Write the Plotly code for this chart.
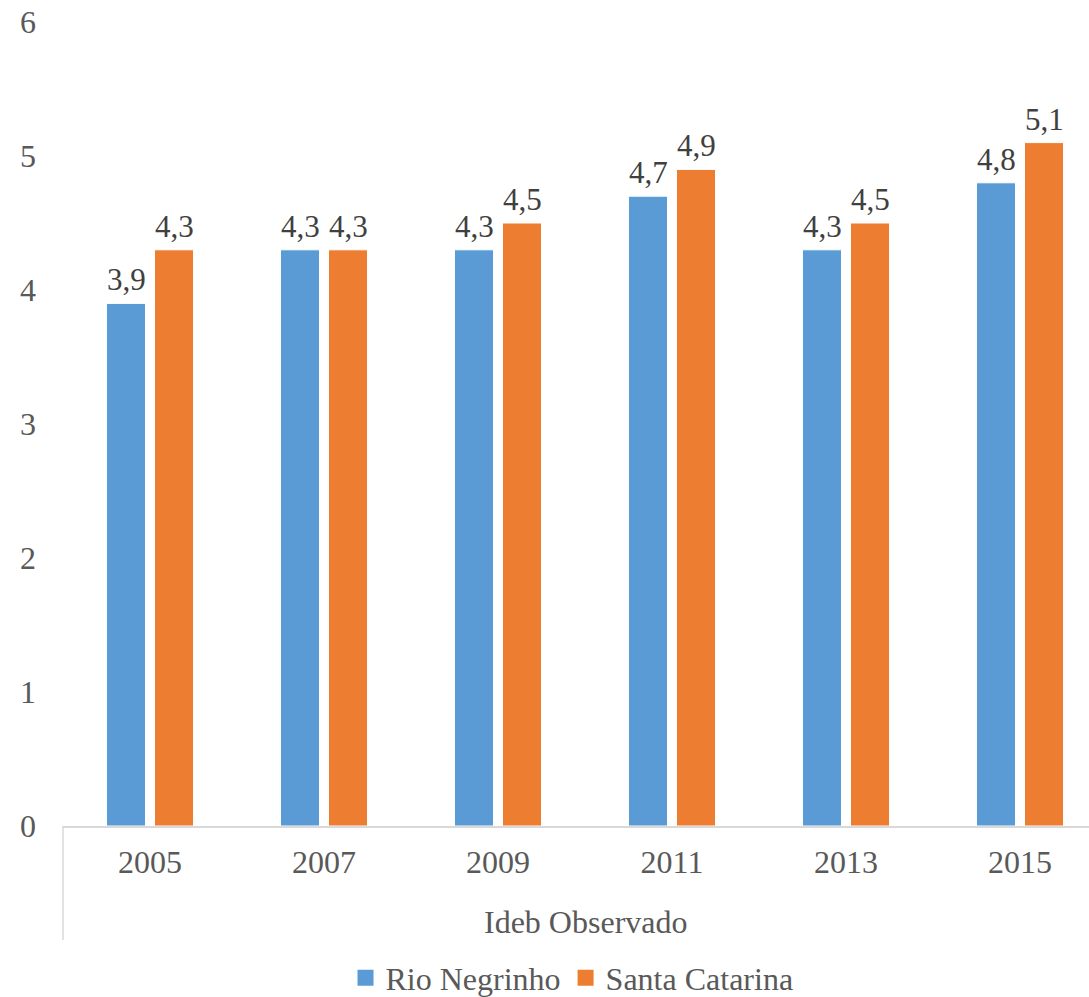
import plotly.graph_objects as go

years = ["2005", "2007", "2009", "2011", "2013", "2015"]
rio_negrinho = [3.9, 4.3, 4.3, 4.7, 4.3, 4.8]
santa_catarina = [4.3, 4.3, 4.5, 4.9, 4.5, 5.1]
series_names = ["Rio Negrinho", "Santa Catarina"]
colors = ["#5B9BD5", "#ED7D31"]
group_label = "Ideb Observado"

FONT = "Liberation Serif"
TXT = "#595959"
LBL = "#404040"

fig = go.Figure()
for name, vals, col in zip(series_names, [rio_negrinho, santa_catarina], colors):
    fig.add_trace(go.Bar(
        x=years, y=vals, name=name, showlegend=False,
        marker=dict(color=col, line=dict(color="white", width=1)),
    ))
# legend entries with square swatches
for name, col in zip(series_names, colors):
    fig.add_trace(go.Scatter(
        x=[None], y=[None], mode="markers", name=name,
        marker=dict(symbol="square", size=19, color=col),
    ))

# data labels above bars (category index positions, shifted to each bar)
for vals, shift in [(rio_negrinho, -24), (santa_catarina, 24)]:
    for i, v in enumerate(vals):
        fig.add_annotation(x=i, y=v, xref="x", yref="y", xshift=shift, yshift=4,
                           yanchor="bottom", showarrow=False,
                           text=f"{v:.1f}".replace(".", ","),
                           font=dict(family=FONT, size=31, color=LBL))

W, H = 1089, 997
left, right_px = 63, 1089
top_px, bot_px = 22, 826
cat_w = 174.0
n = len(years)
x_max = -0.5 + (right_px - left) / cat_w
ph = bot_px - top_px

fig.update_layout(
    width=W, height=H,
    margin=dict(l=left, r=W - right_px, t=top_px, b=H - bot_px, autoexpand=False),
    paper_bgcolor="white", plot_bgcolor="white",
    barmode="group", bargap=0.448, bargroupgap=0.1875,
    separators=", ",
    font=dict(family=FONT, size=32, color=TXT),
    showlegend=True,
    legend=dict(orientation="h", x=(572 - left) / (right_px - left), xanchor="center",
                y=-(978 - bot_px) / ph, yanchor="middle",
                font=dict(family=FONT, size=32, color=TXT),
                itemwidth=30, traceorder="normal", tracegroupgap=0),
    xaxis=dict(type="category", range=[-0.5, x_max], showgrid=False, automargin=False,
               showline=True, linecolor="#d9d9d9", linewidth=1.5,
               ticks="", tickfont=dict(family=FONT, size=32, color=TXT),
               ticklabelstandoff=7, zeroline=False),
    yaxis=dict(range=[0, 6], dtick=1, showgrid=False, showline=False, zeroline=False,
               automargin=False,
               tickfont=dict(family=FONT, size=32, color=TXT),
               ticklabelstandoff=26),
)

fig.add_annotation(x=(n - 1) / 2, xref="x", yref="paper",
                   y=-(922 - bot_px) / ph, yanchor="middle",
                   text=group_label, showarrow=False,
                   font=dict(family=FONT, size=32, color=TXT))

fig.add_shape(type="line", xref="paper", yref="paper",
              x0=0, x1=0, y0=0, y1=-(940 - bot_px) / ph,
              line=dict(color="#d9d9d9", width=1.5))

fig.write_html("out.html", config={"displayModeBar": False},
               post_script="document.body.style.margin='0px';")
